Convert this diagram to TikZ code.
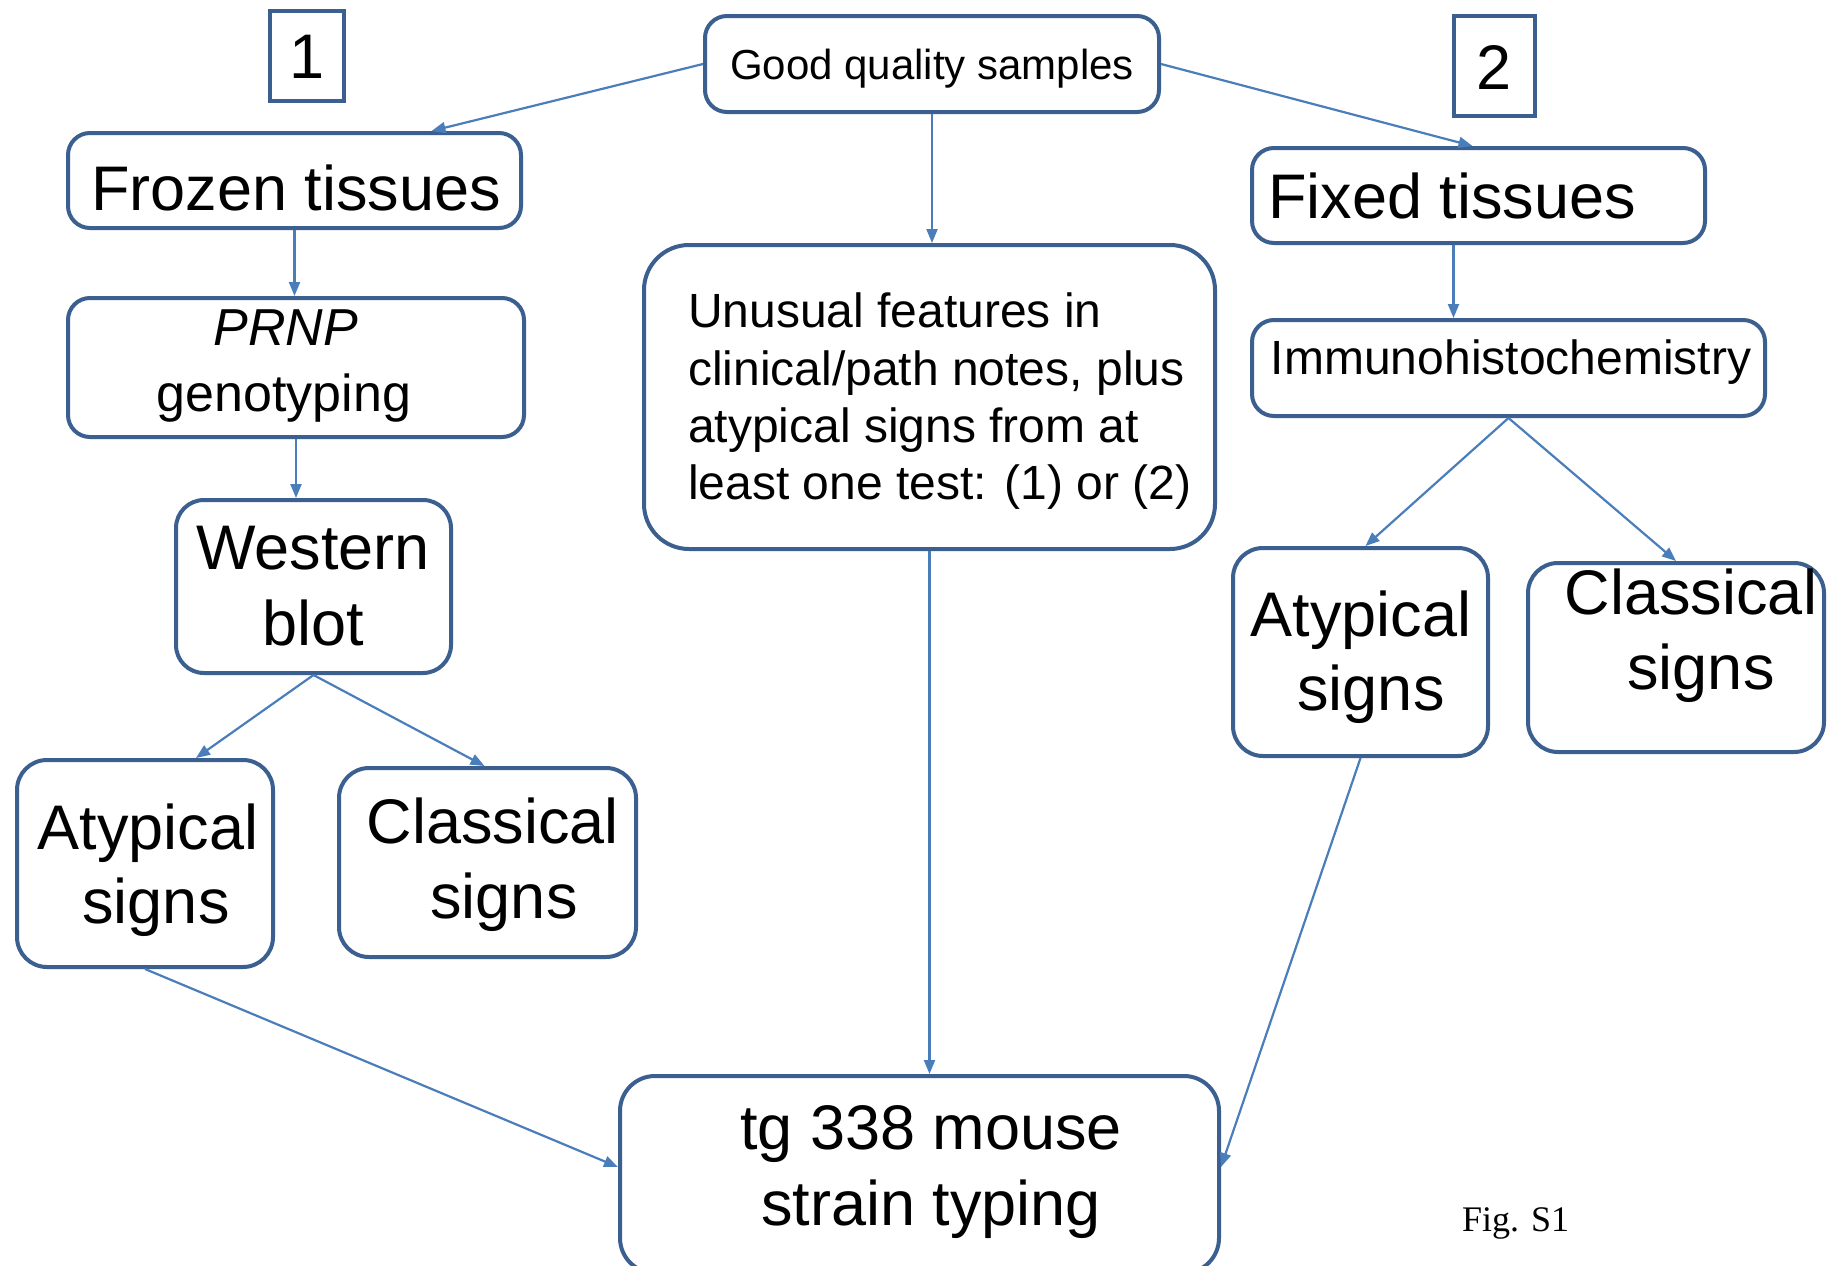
\documentclass[tikz,border=0pt]{standalone}
\usepackage{fontspec}
\setmainfont{Liberation Sans}
\newfontfamily\figfont{Liberation Serif}
\usetikzlibrary{arrows.meta}
\definecolor{boxblue}{RGB}{59,95,143}
\definecolor{arrblue}{RGB}{74,126,187}
\newcommand\fbig{\fontsize{63pt}{76pt}\selectfont}
\newcommand\fmid{\fontsize{48pt}{57pt}\selectfont}
\newcommand\fprnp{\fontsize{52pt}{62pt}\selectfont}
\newcommand\fsmall{\fontsize{42pt}{50pt}\selectfont}
\begin{document}
\begin{tikzpicture}[x=1pt,y=-1pt,
  box/.style={draw=boxblue,line width=4pt,rounded corners=22pt,fill=white,inner sep=0pt},
  numbox/.style={draw=boxblue,line width=4pt,fill=white,inner sep=0pt},
  txt/.style={inner sep=0pt,anchor=base,text=black},
  txtl/.style={inner sep=0pt,anchor=base west,text=black},
  conn/.style={draw=arrblue,line width=2.2pt,-{Triangle[length=14pt,width=11pt]}}]
\fill[white] (0,0) rectangle (1829,1266);
\useasboundingbox (0,0) rectangle (1829,1266);
% boxes
\node[box,minimum width=454pt,minimum height=96pt] (good) at (932,64) {};
\node[numbox,minimum width=74pt,minimum height=90pt] (one) at (307,56) {};
\node[numbox,minimum width=81pt,minimum height=100pt] (two) at (1494.5,66) {};
\node[box,minimum width=453pt,minimum height=95pt] (frozen) at (294.5,180.5) {};
\node[box,minimum width=453pt,minimum height=95pt] (fixed) at (1478.5,195.5) {};
\node[box,minimum width=456pt,minimum height=139pt] (prnp) at (296,367.5) {};
\node[box,rounded corners=45pt,minimum width=571pt,minimum height=304pt] (unusual) at (929.5,397) {};
\node[box,minimum width=513pt,minimum height=96pt] (ihc) at (1508.5,368) {};
\node[box,rounded corners=28pt,minimum width=275pt,minimum height=173pt] (western) at (313.5,586.5) {};
\node[box,rounded corners=30pt,minimum width=256pt,minimum height=207pt] (atyl) at (145,863.5) {};
\node[box,rounded corners=30pt,minimum width=297pt,minimum height=189pt] (clal) at (487.5,862.5) {};
\node[box,rounded corners=30pt,minimum width=255pt,minimum height=208pt] (atyr) at (1360.5,652) {};
\node[box,rounded corners=30pt,minimum width=296pt,minimum height=189pt] (clar) at (1676,657.5) {};
\node[box,rounded corners=35pt,minimum width=599pt,minimum height=197pt] (tg) at (919.5,1174.5) {};
% texts
\node[txt,font=\fsmall] (t-good) at (932,79) {Good quality samples};
\node[txt,font=\fbig] (t-one) at (307,78) {1};
\node[txt,font=\fbig] (t-two) at (1494,89) {2};
\node[txt,font=\fbig] (t-frozen) at (296,210) {Frozen tissues};
\node[txtl,font=\fbig] (t-fixed) at (1268,218) {Fixed tissues};
\node[txt,font=\fprnp\itshape] (t-prnp1) at (286,345) {PRNP};
\node[txt,font=\fprnp] (t-prnp2) at (284,411) {genotyping};
\node[txtl,font=\fmid] (t-unu1) at (688,327) {Unusual features in};
\node[txtl,font=\fmid] (t-unu2) at (688,385) {clinical/path notes, plus};
\node[txtl,font=\fmid] (t-unu3) at (688,442) {atypical signs from at};
\node[txtl,font=\fmid] (t-unu4) at (688,499) {least one test: (1) or (2)};
\node[txt,font=\fmid] (t-ihc) at (1511,374) {Immunohistochemistry};
\node[txt,font=\fbig] (t-west1) at (313,569) {Western};
\node[txt,font=\fbig] (t-west2) at (313,645) {blot};
\node[txt,font=\fbig] (t-atyl1) at (148,849) {Atypical};
\node[txt,font=\fbig] (t-atyl2) at (156,923) {signs};
\node[txt,font=\fbig] (t-clal1) at (493,843) {Classical};
\node[txt,font=\fbig] (t-clal2) at (504,918) {signs};
\node[txt,font=\fbig] (t-atyr1) at (1361,636) {Atypical};
\node[txt,font=\fbig] (t-atyr2) at (1371,710) {signs};
\node[txt,font=\fbig] (t-clar1) at (1691,614) {Classical};
\node[txt,font=\fbig] (t-clar2) at (1701,689) {signs};
\node[txt,font=\fbig] (t-tg1) at (931,1149) {tg 338 mouse};
\node[txt,font=\fbig] (t-tg2) at (931,1225) {strain typing};
\node[txtl,font=\fontsize{36pt}{43pt}\figfont] (fig) at (1462,1231) {Fig. S1};
% connectors
\draw[conn] (good.west) -- ([xshift=137pt]frozen.north);
\draw[conn] (good.east) -- ([xshift=-6pt]fixed.north);
\draw[conn] (good.south) -- (good.south |- unusual.north);
\draw[conn] (frozen.south) -- (frozen.south |- prnp.north);
\draw[conn] (prnp.south) -- (prnp.south |- western.north);
\draw[conn] (western.south) -- ([xshift=51pt]atyl.north);
\draw[conn] (western.south) -- ([xshift=-3pt]clal.north);
\draw[conn] ([xshift=-25pt]fixed.south) -- ([xshift=-25pt]fixed.south |- ihc.north);
\draw[conn] (ihc.south) -- ([xshift=5pt]atyr.north);
\draw[conn] (ihc.south) -- (clar.north);
\draw[conn] (unusual.south) -- (unusual.south |- tg.north);
\draw[conn] (atyl.south) -- ([yshift=7.5pt]tg.west);
\draw[conn] (atyr.south) -- ([yshift=7.5pt]tg.east);
\end{tikzpicture}
\end{document}
